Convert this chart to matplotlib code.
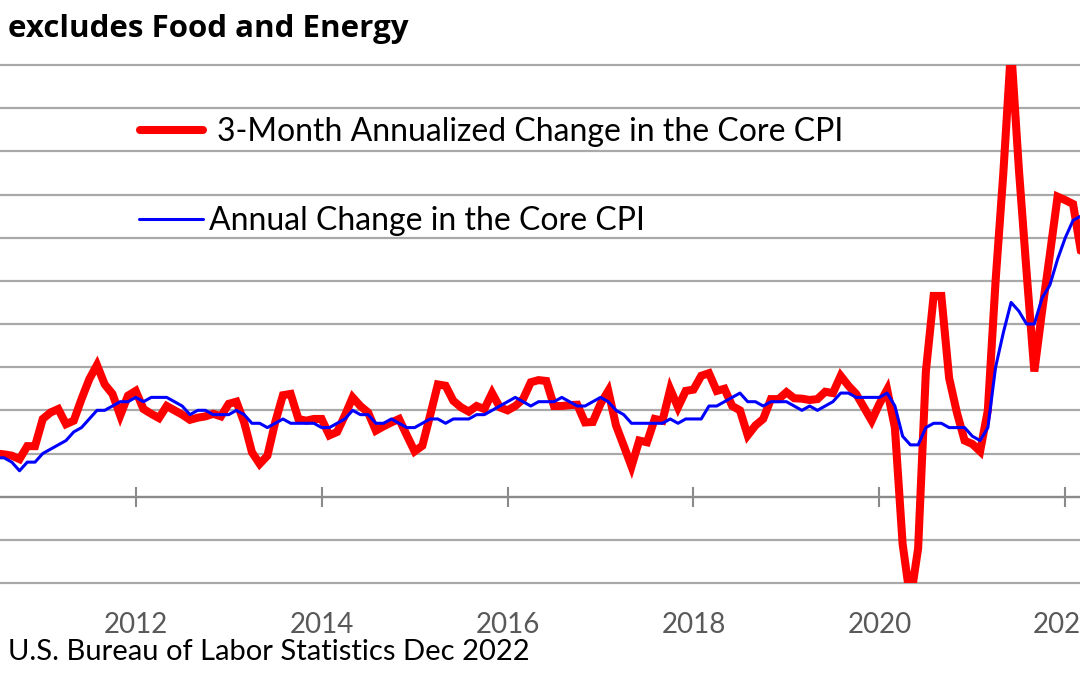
import numpy as np
import matplotlib
matplotlib.use("Agg")
import matplotlib.pyplot as plt

# ── data: monthly, Jul 2010 – Apr 2022, percent ───────────────────────────────
START_YEAR = 2010
START_MONTH = 7

CORE_3M_ANNUALIZED = [
    # 2010 Jul–Dec
    1.00, 0.98, 0.95, 0.87, 1.17, 1.17,
    # 2011
    1.80, 1.95, 2.03, 1.68, 1.76, 2.26, 2.72, 3.05, 2.60, 2.38, 1.88, 2.34,
    # 2012
    2.45, 2.03, 1.92, 1.82, 2.10, 2.00, 1.90, 1.78, 1.83, 1.86, 1.92, 1.86,
    # 2013
    2.15, 2.20, 1.72, 1.03, 0.76, 0.95, 1.72, 2.35, 2.38, 1.80, 1.76, 1.80,
    # 2014
    1.80, 1.42, 1.50, 1.88, 2.30, 2.10, 1.95, 1.53, 1.63, 1.72, 1.80, 1.42,
    # 2015
    1.05, 1.18, 1.88, 2.60, 2.57, 2.22, 2.07, 1.97, 2.10, 2.03, 2.40, 2.07,
    # 2016
    2.00, 2.10, 2.26, 2.65, 2.70, 2.68, 2.10, 2.10, 2.12, 2.13, 1.72, 1.73,
    # 2017
    2.15, 2.45, 1.65, 1.18, 0.70, 1.30, 1.26, 1.80, 1.76, 2.49, 2.07, 2.45,
    # 2018
    2.48, 2.80, 2.86, 2.45, 2.50, 2.10, 2.00, 1.42, 1.65, 1.80, 2.26, 2.26,
    # 2019
    2.42, 2.28, 2.27, 2.24, 2.26, 2.43, 2.40, 2.80, 2.57, 2.38, 2.07, 1.76,
    # 2020
    2.15, 2.48, 1.60, -1.10, -2.40, -1.20, 2.90, 4.65, 4.65, 2.75, 1.95, 1.30,
    # 2021
    1.22, 1.05, 2.00, 5.00, 7.50, 10.40, 7.60, 5.20, 2.90, 4.30, 5.60, 6.95,
    # 2022 Jan–Apr
    6.87, 6.78, 5.70, 5.60,
]

CORE_ANNUAL = [
    # 2010 Jul–Dec
    0.9, 0.9, 0.8, 0.6, 0.8, 0.8,
    # 2011
    1.0, 1.1, 1.2, 1.3, 1.5, 1.6, 1.8, 2.0, 2.0, 2.1, 2.2, 2.2,
    # 2012
    2.3, 2.2, 2.3, 2.3, 2.3, 2.2, 2.1, 1.9, 2.0, 2.0, 1.9, 1.9,
    # 2013
    1.9, 2.0, 1.9, 1.7, 1.7, 1.6, 1.7, 1.8, 1.7, 1.7, 1.7, 1.7,
    # 2014
    1.6, 1.6, 1.7, 1.8, 2.0, 1.9, 1.9, 1.7, 1.7, 1.8, 1.7, 1.6,
    # 2015
    1.6, 1.7, 1.8, 1.8, 1.7, 1.8, 1.8, 1.8, 1.9, 1.9, 2.0, 2.1,
    # 2016
    2.2, 2.3, 2.2, 2.1, 2.2, 2.2, 2.2, 2.3, 2.2, 2.1, 2.1, 2.2,
    # 2017
    2.3, 2.2, 2.0, 1.9, 1.7, 1.7, 1.7, 1.7, 1.7, 1.8, 1.7, 1.8,
    # 2018
    1.8, 1.8, 2.1, 2.1, 2.2, 2.3, 2.4, 2.2, 2.2, 2.1, 2.2, 2.2,
    # 2019
    2.2, 2.1, 2.0, 2.1, 2.0, 2.1, 2.2, 2.4, 2.4, 2.3, 2.3, 2.3,
    # 2020
    2.3, 2.4, 2.1, 1.4, 1.2, 1.2, 1.6, 1.7, 1.7, 1.6, 1.6, 1.6,
    # 2021
    1.4, 1.3, 1.6, 3.0, 3.8, 4.5, 4.3, 4.0, 4.0, 4.6, 4.9, 5.5,
    # 2022 Jan–Apr
    6.0, 6.4, 6.5, 6.2,
]

TICK_YEARS = [2012, 2014, 2016, 2018, 2020, 2022]
TICK_LABELS = ["2012", "2014", "2016", "2018", "2020", "2022"]
Y_GRID = [-2, -1, 0, 1, 2, 3, 4, 5, 6, 7, 8, 9, 10]

RED_LABEL = "3-Month Annualized Change in the Core CPI"
BLUE_LABEL = "Annual Change in the Core CPI"
TITLE = "excludes Food and Energy"
SOURCE = "U.S. Bureau of Labor Statistics Dec 2022"

# ── style ─────────────────────────────────────────────────────────────────────
FONT = ["Lato", "DejaVu Sans"]
TITLE_FONT = ["Open Sans", "Lato", "DejaVu Sans"]
RED = "#FF0000"
BLUE = "#0000FF"
GRID = "#A9A9A9"
AXIS = "#8A8A8A"
TICK_TXT = "#595959"

plt.rcParams.update({
    "font.family": FONT,
    "figure.dpi": 100,
    "savefig.dpi": 100,
    "figure.facecolor": "white",
    "axes.facecolor": "white",
})

# month positions as decimal years (Jan = tick position)
n = len(CORE_ANNUAL)
x = START_YEAR + (START_MONTH - 1) / 12 + np.arange(n) / 12

fig = plt.figure(figsize=(10.8, 6.75))
ax = fig.add_axes([0.0, 92 / 675, 1.0, 518 / 675])

red_line, = ax.plot(x, CORE_3M_ANNUALIZED, color=RED, linewidth=5.8,
                    solid_capstyle="round", solid_joinstyle="miter",
                    label=RED_LABEL, zorder=3)
blue_line, = ax.plot(x, CORE_ANNUAL, color=BLUE, linewidth=2.2,
                     solid_capstyle="round", label=BLUE_LABEL, zorder=4)

ax.set_xlim(2010.540, 2022.158)
ax.set_ylim(-2, 10)

# horizontal gridlines only
ax.set_yticks(Y_GRID)
ax.yaxis.grid(True, color=GRID, linewidth=1.6)
for gl in ax.get_ygridlines():
    gl.set_clip_on(False)
ax.tick_params(axis="y", left=False, labelleft=False)
ax.set_axisbelow(True)

for side in ["top", "right", "left"]:
    ax.spines[side].set_visible(False)

# category axis crosses at zero, ticks cross the line
ax.spines["bottom"].set_position(("data", 0))
ax.spines["bottom"].set_color(AXIS)
ax.spines["bottom"].set_linewidth(1.6)
ax.set_xticks(TICK_YEARS)
ax.tick_params(axis="x", direction="inout", length=15, width=1.5,
               color=AXIS, labelbottom=False)

# labels sit at the bottom of the plot area
sec = ax.secondary_xaxis("bottom")
sec.set_xticks(TICK_YEARS, TICK_LABELS)
sec.tick_params(length=0, pad=21, labelsize=20, labelcolor=TICK_TXT)
sec.spines["bottom"].set_visible(False)

# legend entries placed as two separate boxes
leg1 = ax.legend(handles=[red_line], loc="center left",
                 bbox_to_anchor=(140 / 1080, 1 - 132 / 675),
                 bbox_transform=fig.transFigure, frameon=False,
                 fontsize=23, borderpad=0, borderaxespad=0,
                 handlelength=1.97, handletextpad=0.44)
ax.add_artist(leg1)
ax.legend(handles=[blue_line], loc="center left",
          bbox_to_anchor=(139 / 1080, 1 - 221 / 675),
          bbox_transform=fig.transFigure, frameon=False,
          fontsize=23, borderpad=0, borderaxespad=0,
          handlelength=2.0, handletextpad=0.19)

fig.text(8 / 1080, 1 - 37 / 675, TITLE, fontsize=22.5, fontweight="bold",
         family=TITLE_FONT, ha="left", va="baseline", color="black")
fig.text(8 / 1080, 1 - 660 / 675, SOURCE, fontsize=21,
         ha="left", va="baseline", color="black")

fig.savefig("out.png")
